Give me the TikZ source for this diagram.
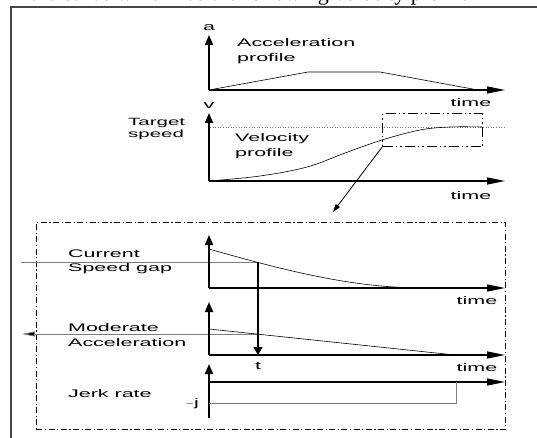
\documentclass[tikz,border=0pt]{standalone}
\usepackage{fontspec}
\setmainfont{Liberation Sans}
\newfontfamily\widefont[FakeStretch=1.95]{Liberation Sans}
\newfontfamily\capfont{Liberation Serif}
\usetikzlibrary{arrows.meta,calc,positioning}
\definecolor{guidegray}{RGB}{125,125,125}
\definecolor{framegray}{RGB}{70,70,70}
\newcommand{\lblfont}{\widefont\fontsize{11}{14.5}\selectfont}

\begin{document}
\begin{tikzpicture}[
    x=1pt, y=-1pt,
    font=\lblfont,
    lbl/.style={inner sep=0pt, align=left},
    vaxis/.style={line width=1.8pt, -{Triangle[length=10pt, width=8pt]}},
    haxis/.style={line width=1.3pt, -{Triangle[length=18pt, width=7pt]}},
    profile/.style={line width=0.6pt},
    guide/.style={line width=0.8pt, draw=guidegray},
    pointer/.style={line width=0.8pt, -{Triangle[length=8pt, width=5pt]}},
    zoombox/.style={draw, line width=1.2pt, inner sep=0pt,
      dash pattern=on 10pt off 3pt on 1.5pt off 3pt on 1.5pt off 3pt},
    detailbox/.style={draw, line width=0.8pt, inner sep=0pt,
      dash pattern=on 6pt off 2.5pt on 1.2pt off 2.5pt}
  ]
    \useasboundingbox (0,0) rectangle (537,438);

    % page frame and cut caption
    \node[anchor=base west, inner sep=0pt] (caption) at (30,0.8)
      {\capfont\fontsize{22}{24}\selectfont the curve which has the following velocity profile};
    \draw[framegray, line width=1.1pt] (537,7) -- (11,7) -- (11,438);

    % acceleration profile
    \coordinate (ao) at (209,90);
    \node[lbl] (alabel) at (209,28) {a};
    \node[lbl, anchor=west] (aname) at (237,51) {Acceleration\\profile};
    \node[lbl] (atime) at (471,103) {time};
    \draw[vaxis] (ao) -- (209,35);
    \draw[haxis] (ao) -- (505,90);
    \draw[profile] (ao) -- (308,72) -- (380,72) -- (478,90);

    % velocity profile
    \coordinate (vo) at (209,181);
    \node[lbl] (vlabel) at (209,106) {v};
    \node[lbl, anchor=west, font=\widefont\fontsize{10.5}{12.5}\selectfont]
      (target) at (128,129) {Target\\speed};
    \node[lbl, anchor=west] (vname) at (235,146) {Velocity\\profile};
    \node[lbl] (vtime) at (471,196) {time};
    \draw[guidegray, line width=0.6pt, dotted] (210,127) -- (505,127);
    \draw[vaxis] (vo) -- (209,113);
    \draw[haxis] (vo) -- (505,181);
    \draw[profile] plot[smooth, tension=0.6] coordinates
      {(209,181) (260,176) (307,167) (345,153) (382,140) (420,130) (450,127) (482,127)};
    \node[zoombox, minimum width=100pt, minimum height=33pt, anchor=north west]
      (zoom) at (382,113) {};
    \coordinate (detailin) at (333,212);
    \draw[pointer] (zoom.south west) -- (detailin);

    % detail box
    \node[detailbox, minimum width=469pt, minimum height=207pt, anchor=north west]
      (detail) at (36,222) {};

    % current speed gap
    \coordinate (go) at (209,288);
    \coordinate (gap) at (258,262);
    \coordinate (gapend) at (21,262);
    \node[lbl, anchor=west] (gname) at (68,262) {Current\\Speed gap};
    \node[lbl] (gtime) at (477,301) {time};
    \draw[guide] (gap) -- (gapend);
    \draw[vaxis] (go) -- (209,235);
    \draw[haxis] (go) -- (505,288);
    \draw[profile] (209,249) .. controls (300,275) and (360,288) .. (425,288);

    % moderate acceleration
    \coordinate (mo) at (209,355);
    \coordinate (acc) at (258,334);
    \coordinate (accend) at (22,334);
    \coordinate (tpt) at (258,355);
    \node[lbl, anchor=west] (mname) at (68,335) {Moderate\\Acceleration};
    \node[lbl] (mtime) at (477,368) {time};
    \node[lbl] (tlabel) at (258,366) {t};
    \draw[guide, -{Triangle[length=13pt, width=5pt, fill=black]}] (acc) -- (accend);
    \draw[vaxis] (mo) -- (209,302);
    \draw[haxis] (mo) -- (505,355);
    \draw[profile] (209,329) -- (455,355);
    \draw[line width=1.2pt, -{Triangle[length=8pt, width=9pt]}] (gap) -- (tpt);

    % jerk rate
    \coordinate (jo) at (209,418);
    \node[lbl, anchor=west] (jname) at (68,394) {Jerk rate};
    \node[lbl, anchor=east] (jneg) at (199,404) {$-$j};
    \draw[vaxis] (jo) -- (209,364);
    \draw[haxis] (209,382) -- (505,382);
    \draw[guide] (209,403) -- (456,403) -- (456,382);
\end{tikzpicture}
\end{document}
